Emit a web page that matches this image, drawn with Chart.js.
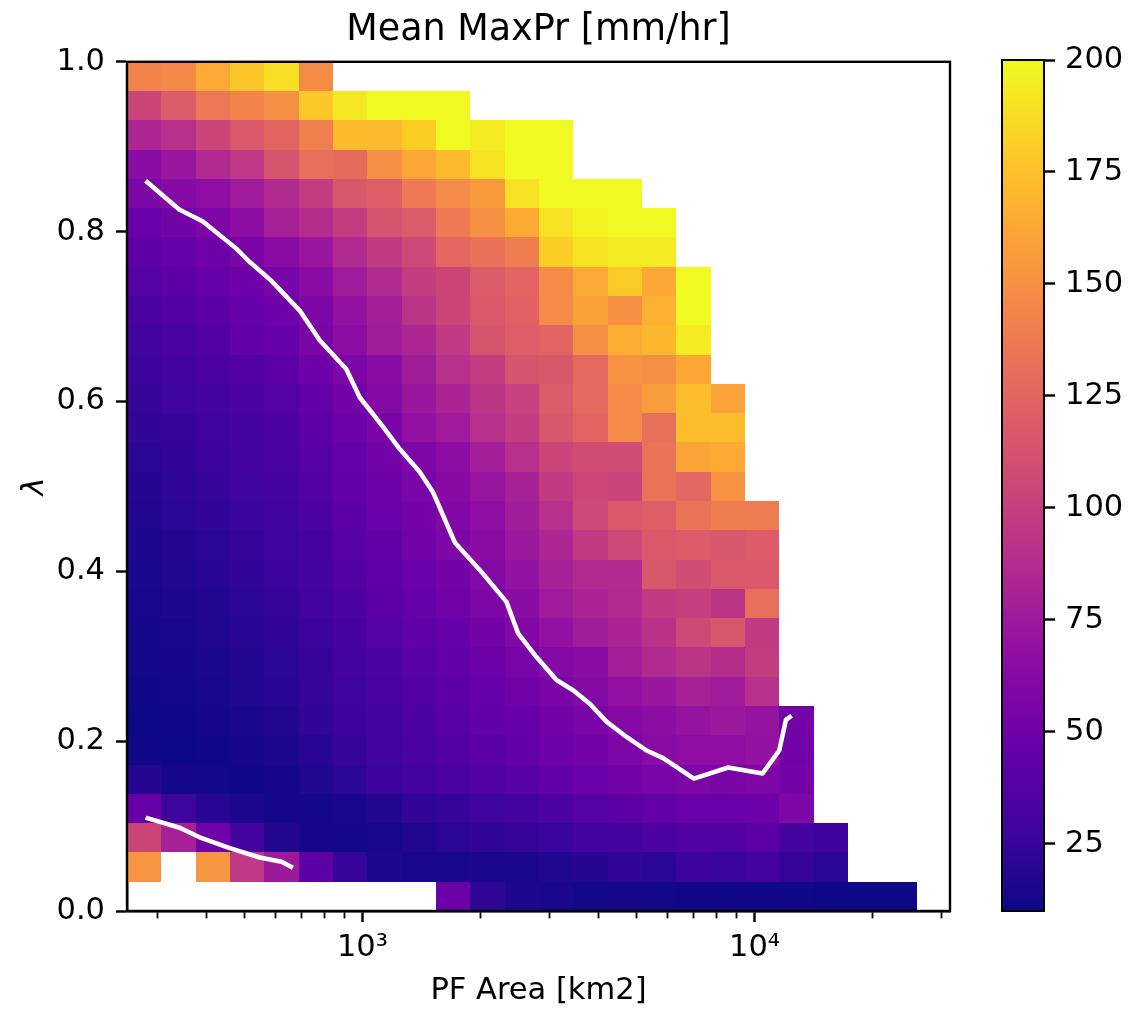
<!DOCTYPE html>
<html>
<head>
<meta charset="utf-8">
<title>Mean MaxPr</title>
<script src="https://cdn.jsdelivr.net/npm/chart.js@4.4.1/dist/chart.umd.min.js"></script>
<style>
  html, body { margin: 0; padding: 0; background: #fff; }
  #wrap { position: relative; width: 1136px; height: 1012px; }
  #main { position: absolute; left: 0; top: 0; }
  #cbar { position: absolute; left: 990px; top: 0; }
</style>
</head>
<body>
<div id="wrap">
  <canvas id="main" width="990" height="1012"></canvas>
  <canvas id="cbar" width="146" height="1012"></canvas>
</div>
<script>
/* =====================
   data
===================== */
const VMIN = 10;
const VMAX = 200;

// PF area bin edges [km2] (log spaced)
const areaEdges = [251, 307, 376, 459, 562, 688, 841, 1029, 1259, 1540, 1884, 2304,
  2819, 3449, 4219, 5161, 6314, 7724, 9450, 11560, 14142, 17301, 21165, 25892];

// lambda bin edges
const lambdaEdges = [0, 0.0345, 0.069, 0.1034, 0.1379, 0.1724, 0.2069, 0.2414, 0.2759,
  0.3103, 0.3448, 0.3793, 0.4138, 0.4483, 0.4828, 0.5172, 0.5517, 0.5862, 0.6207,
  0.6552, 0.6897, 0.7241, 0.7586, 0.7931, 0.8276, 0.8621, 0.8966, 0.931, 0.9655, 1];

const _ = null;
// mean MaxPr [mm/hr], rows from lambda ~1 (top) down to lambda ~0, one value per area bin
const maxPr = [
  [143,145,163,177,188,147,_,_,_,_,_,_,_,_,_,_,_,_,_,_,_,_,_],
  [104,118,135,143,149,178,192,200,200,200,_,_,_,_,_,_,_,_,_,_,_,_,_],
  [84,90,104,117,124,140,172,172,181,200,194,200,200,_,_,_,_,_,_,_,_,_,_],
  [65,73,86,95,114,130,129,149,162,172,190,200,200,_,_,_,_,_,_,_,_,_,_],
  [57,63,67,76,86,99,116,120,137,147,156,190,200,200,200,_,_,_,_,_,_,_,_],
  [48,52,58,66,80,88,98,114,118,137,150,164,190,198,200,200,_,_,_,_,_,_,_],
  [42,46,50,56,65,73,86,97,106,126,132,139,181,190,194,194,_,_,_,_,_,_,_],
  [38,42,46,50,55,65,76,86,99,104,118,124,147,163,179,162,200,_,_,_,_,_,_],
  [33,37,41,46,50,58,70,78,93,104,117,122,147,159,150,167,200,_,_,_,_,_,_],
  [30,33,37,44,47,56,66,77,84,96,114,120,124,149,166,170,194,_,_,_,_,_,_],
  [27,30,34,37,42,50,58,65,77,90,99,114,116,127,151,149,162,_,_,_,_,_,_],
  [25,28,31,34,38,45,53,61,73,82,93,101,118,127,147,157,173,160,_,_,_,_,_],
  [23,25,28,31,35,42,49,56,69,76,90,99,116,124,147,131,173,173,_,_,_,_,_],
  [21,24,27,30,33,40,46,53,58,66,78,90,104,108,108,133,161,164,_,_,_,_,_],
  [19,22,25,28,31,37,44,50,55,63,72,80,97,105,103,133,125,151,_,_,_,_,_],
  [18,21,23,26,29,34,42,48,53,60,67,77,90,106,117,120,133,139,138,_,_,_,_],
  [16,19,21,25,28,32,39,45,51,57,65,74,84,97,106,117,119,116,119,_,_,_,_],
  [15,17,20,23,27,31,37,43,48,53,61,70,80,86,87,116,109,117,117,_,_,_,_],
  [14,16,18,21,25,30,35,41,46,51,57,65,76,82,86,97,100,93,130,_,_,_,_],
  [12,14,17,20,23,27,32,38,43,47,53,60,69,77,82,92,107,116,97,_,_,_,_],
  [12,13,15,18,21,25,30,35,40,44,49,54,62,65,78,86,93,88,98,_,_,_,_],
  [11,12,14,17,20,25,28,33,37,42,46,51,56,61,69,73,80,76,90,_,_,_,_],
  [10,11,13,15,18,23,27,31,35,40,44,47,53,55,62,66,71,74,71,53,_,_,_],
  [11,10,11,13,16,20,25,30,33,37,41,44,50,53,58,64,67,67,70,51,_,_,_],
  [19,13,12,11,13,17,21,27,30,33,37,40,44,48,53,55,58,56,57,53,_,_,_],
  [47,28,20,16,13,12,14,18,23,25,28,30,34,38,41,45,48,48,49,58,_,_,_],
  [104,80,50,30,18,13,13,14,18,21,23,25,26,30,31,34,36,36,41,31,27,_,_],
  [152,_,153,95,75,42,25,16,14,14,15,15,17,19,23,21,27,26,30,25,21,_,_],
  [_,_,_,_,_,_,_,_,_,48,22,16,15,12,13,12,11,11,11,11,10,10,10]
];

// white contours
const contourAreaA = [280, 341, 392, 477, 511, 586, 692, 778, 910, 984, 1129, 1245, 1400, 1514,
  1720, 2031, 2330, 2494, 2779, 3125, 3445, 3800, 4192, 4715, 5303, 5846, 7001, 8564, 10482,
  11556, 12019, 12430];
const contourLambdaA = [0.860, 0.826, 0.812, 0.780, 0.766, 0.742, 0.707, 0.672, 0.638, 0.605,
  0.570, 0.544, 0.517, 0.493, 0.434, 0.397, 0.364, 0.327, 0.299, 0.272, 0.260, 0.244, 0.223,
  0.205, 0.189, 0.180, 0.156, 0.169, 0.162, 0.189, 0.225, 0.230];
const contourAreaB = [280, 342, 388, 459, 547, 622, 665];
const contourLambdaB = [0.110, 0.098, 0.086, 0.074, 0.063, 0.058, 0.051];

// ticks
const areaTicks = [300, 400, 500, 600, 700, 800, 900, 1000, 2000, 3000, 4000, 5000, 6000,
  7000, 8000, 9000, 10000, 20000, 30000];
const areaLabels = { 1000: "10³", 10000: "10⁴" };
const colorTicks = [25, 50, 75, 100, 125, 150, 175, 200];

/* =====================
   plasma colormap
===================== */
const PLASMA = ["#0d0887","#41049d","#6a00a8","#8f0da4","#b12a90","#cc4778",
  "#e16462","#f2844b","#fca636","#fcce25","#f0f921"];

function hexRgb(h){
  return [1,3,5].map(i => parseInt(h.slice(i, i+2), 16));
}

function plasma(t){
  t = Math.min(1, Math.max(0, t));
  const p = t * (PLASMA.length - 1);
  const i = Math.min(Math.floor(p), PLASMA.length - 2);
  const f = p - i;
  const a = hexRgb(PLASMA[i]), b = hexRgb(PLASMA[i+1]);
  const c = a.map((v,k) => Math.round(v + (b[k]-v)*f));
  return `rgb(${c[0]},${c[1]},${c[2]})`;
}

/* =====================
   plugins
===================== */
const heatmap = {
  id: "heatmap",
  beforeDatasetsDraw(chart){
    const {ctx, scales: {x, y}} = chart;
    ctx.save();
    maxPr.forEach((row, i)=>{
      const bin = lambdaEdges.length - 2 - i;
      const y0 = Math.round(y.getPixelForValue(lambdaEdges[bin+1]));
      const y1 = Math.round(y.getPixelForValue(lambdaEdges[bin]));
      row.forEach((v, j)=>{
        if (v === null) return;
        const x0 = Math.round(x.getPixelForValue(areaEdges[j]));
        const x1 = Math.round(x.getPixelForValue(areaEdges[j+1]));
        ctx.fillStyle = plasma((v - VMIN) / (VMAX - VMIN));
        ctx.fillRect(x0, y0, x1 - x0, y1 - y0);
      });
    });
    ctx.restore();
  }
};

function frame(width){
  return {
    id: "frame",
    afterDraw(chart){
      const {ctx, chartArea: a} = chart;
      ctx.save();
      ctx.strokeStyle = "#000";
      ctx.lineWidth = width;
      ctx.strokeRect(a.left, a.top, a.right - a.left, a.bottom - a.top);
      ctx.restore();
    }
  };
}

/* =====================
   main chart
===================== */
Chart.defaults.font.family = "'DejaVu Sans', sans-serif";
Chart.defaults.color = "#000";

const tickFont = { size: 30.5 };

function line(area, lambda){
  return {
    data: area.map((a, i) => ({ x: a, y: lambda[i] })),
    showLine: true,
    borderColor: "#fff",
    borderWidth: 4.5,
    borderJoinStyle: "round",
    pointRadius: 0,
    tension: 0
  };
}

new Chart(document.getElementById("main"), {
  type: "scatter",
  data: { datasets: [ line(contourAreaA, contourLambdaA), line(contourAreaB, contourLambdaB) ] },
  options: {
    responsive: false,
    animation: false,
    devicePixelRatio: 1,
    layout: { padding: { left: 0, right: 40, top: 0, bottom: 0 } },
    plugins: {
      legend: { display: false },
      tooltip: { enabled: false },
      title: {
        display: true,
        text: "Mean MaxPr [mm/hr]",
        fullSize: false,
        font: { size: 36.5, weight: "normal" },
        color: "#000",
        padding: { top: 9, bottom: 9 }
      }
    },
    scales: {
      x: {
        type: "logarithmic",
        min: areaEdges[0],
        max: 31500,
        afterBuildTicks: s => { s.ticks = areaTicks.map(v => ({ value: v })); },
        afterFit: s => { s.height = 101; },
        ticks: {
          autoSkip: false,
          maxRotation: 0,
          font: tickFont,
          padding: 8,
          callback: v => areaLabels[v] || ""
        },
        grid: {
          drawOnChartArea: false,
          tickLength: 11,
          tickColor: "#000",
          tickWidth: c => areaLabels[c.tick.value] ? 2.4 : 1.8,
          tickBorderDash: c => areaLabels[c.tick.value] ? [] : [6, 40]
        },
        border: { color: "#000", width: 2.4 },
        title: {
          display: true,
          text: "PF Area [km2]",
          font: { size: 30.5 },
          padding: { top: 0, bottom: 3 }
        }
      },
      y: {
        min: 0,
        max: 1,
        afterFit: s => { s.width = 127; },
        ticks: {
          stepSize: 0.2,
          font: tickFont,
          padding: 11,
          callback: v => v.toFixed(1)
        },
        grid: { drawOnChartArea: false, tickLength: 11, tickColor: "#000", tickWidth: 2.4 },
        border: { color: "#000", width: 2.4 },
        title: {
          display: true,
          text: "λ",
          font: { size: 30.5, style: "italic" },
          padding: { top: 17, bottom: 0 }
        }
      }
    }
  },
  plugins: [heatmap, frame(2.4)]
});

/* =====================
   colorbar
===================== */
function barGradient(c){
  const {chart} = c;
  const y = chart.scales.y;
  if (!chart.chartArea || !y) return PLASMA[5];
  const g = chart.ctx.createLinearGradient(0, y.getPixelForValue(VMIN), 0, y.getPixelForValue(VMAX));
  PLASMA.forEach((col, i) => g.addColorStop(i / (PLASMA.length - 1), col));
  return g;
}

new Chart(document.getElementById("cbar"), {
  type: "bar",
  data: {
    labels: [""],
    datasets: [{
      data: [[VMIN, VMAX]],
      backgroundColor: barGradient,
      borderWidth: 0,
      barPercentage: 1,
      categoryPercentage: 1
    }]
  },
  options: {
    responsive: false,
    animation: false,
    devicePixelRatio: 1,
    layout: { padding: { left: 12, right: 0, top: 60, bottom: 101 } },
    plugins: { legend: { display: false }, tooltip: { enabled: false } },
    scales: {
      x: { display: false },
      y: {
        position: "right",
        min: VMIN,
        max: VMAX,
        afterBuildTicks: s => { s.ticks = colorTicks.map(v => ({ value: v })); },
        afterFit: s => { s.width = 92; },
        ticks: { font: tickFont, padding: 10 },
        grid: { drawOnChartArea: false, tickLength: 11, tickColor: "#000", tickWidth: 2.4 },
        border: { color: "#000", width: 2 }
      }
    }
  },
  plugins: [frame(2)]
});
</script>
</body>
</html>
